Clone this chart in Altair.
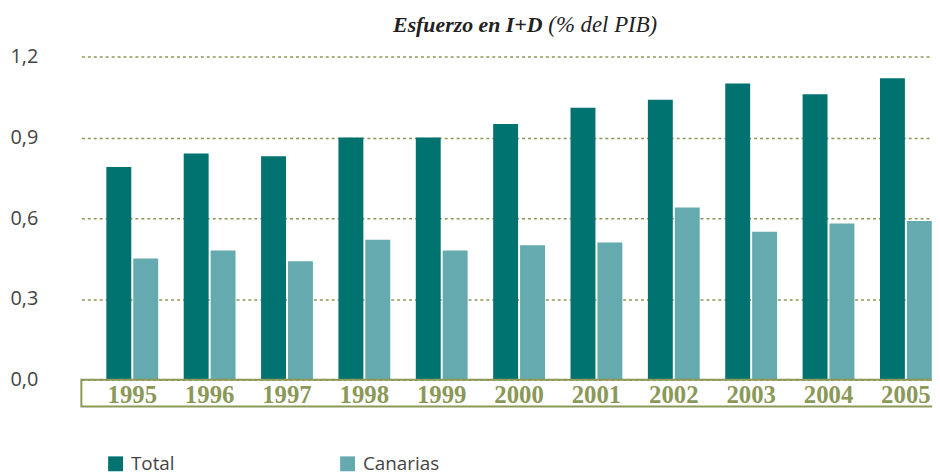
import altair as alt
import pandas as pd

years = ["1995", "1996", "1997", "1998", "1999", "2000", "2001", "2002", "2003", "2004", "2005"]
total = [0.79, 0.84, 0.83, 0.90, 0.90, 0.95, 1.01, 1.04, 1.10, 1.06, 1.12]
canarias = [0.45, 0.48, 0.44, 0.52, 0.48, 0.50, 0.51, 0.64, 0.55, 0.58, 0.59]
series = ["Total", "Canarias"]
y_ticks = [0.0, 0.3, 0.6, 0.9, 1.2]
title_bold = "Esfuerzo en I+D"
title_rest = "(% del PIB)"

rows = []
for i, yr in enumerate(years):
    rows.append({"year": yr, "serie": "Total", "value": total[i]})
    rows.append({"year": yr, "serie": "Canarias", "value": canarias[i]})
df = pd.DataFrame(rows)

OLIVE = "#8a9858"
DARK = "#007370"
LIGHT = "#64aaae"
W, H = 858, 326

bars = alt.Chart(df).mark_bar().encode(
    x=alt.X("year:N", sort=years,
            scale=alt.Scale(range=[0, 883], paddingInner=0.33, paddingOuter=0.323),
            axis=alt.Axis(title=None, domain=False, ticks=False, labelAngle=0,
                          labelFont="Liberation Serif", labelFontWeight="bold",
                          labelFontSize=25, labelColor=OLIVE,
                          labelBaseline="alphabetic", labelPadding=23)),
    xOffset=alt.XOffset("serie:N", sort=series,
                        scale=alt.Scale(paddingInner=0.074, paddingOuter=0)),
    y=alt.Y("value:Q", scale=alt.Scale(domain=[0, 1.2], nice=False),
            axis=alt.Axis(title=None, domain=False, ticks=False, values=y_ticks,
                          labelExpr="replace(format(datum.value, '.1f'), '.', ',')",
                          labelAlign="left", labelBaseline="middle", labelPadding=72,
                          labelFont="Open Sans", labelFontSize=20, labelColor="#444444",
                          grid=True, gridColor=OLIVE, gridDash=[3, 3], gridWidth=1.5)),
    color=alt.Color("serie:N", sort=series,
                    scale=alt.Scale(domain=series, range=[DARK, LIGHT]),
                    legend=alt.Legend(title=None, orient="none", legendX=25, legendY=401,
                                      direction="horizontal", columns=2, columnPadding=164,
                                      symbolType="square", symbolSize=225,
                                      symbolStrokeWidth=0, symbolOpacity=1,
                                      labelFont="Open Sans", labelFontSize=19,
                                      labelColor="#444444", labelOffset=6, padding=0)),
)

one = pd.DataFrame({"a": [1]})

box = alt.Chart(one).mark_rect(fill="transparent", stroke=OLIVE, strokeWidth=2).encode(
    x=alt.value(0), x2=alt.value(W + 40), y=alt.value(H), y2=alt.value(H + 27)
)

t1 = alt.Chart(one).mark_text(
    text=title_bold, font="Liberation Serif", fontStyle="italic", fontWeight="bold",
    fontSize=22, color="#222222", align="right", baseline="alphabetic"
).encode(x=alt.value(465), y=alt.value(-25))

t2 = alt.Chart(one).mark_text(
    text=title_rest, font="Liberation Serif", fontStyle="italic",
    fontSize=23, color="#222222", align="left", baseline="alphabetic"
).encode(x=alt.value(471), y=alt.value(-25))

chart = alt.layer(bars, box, t1, t2).properties(
    width=W, height=H,
    autosize=alt.AutoSizeParams(type="none"),
    padding={"left": 74, "top": 47, "right": 0, "bottom": 95},
).configure_view(stroke=None)

chart.save("out.html", embed_options={"renderer": "svg", "actions": False})
